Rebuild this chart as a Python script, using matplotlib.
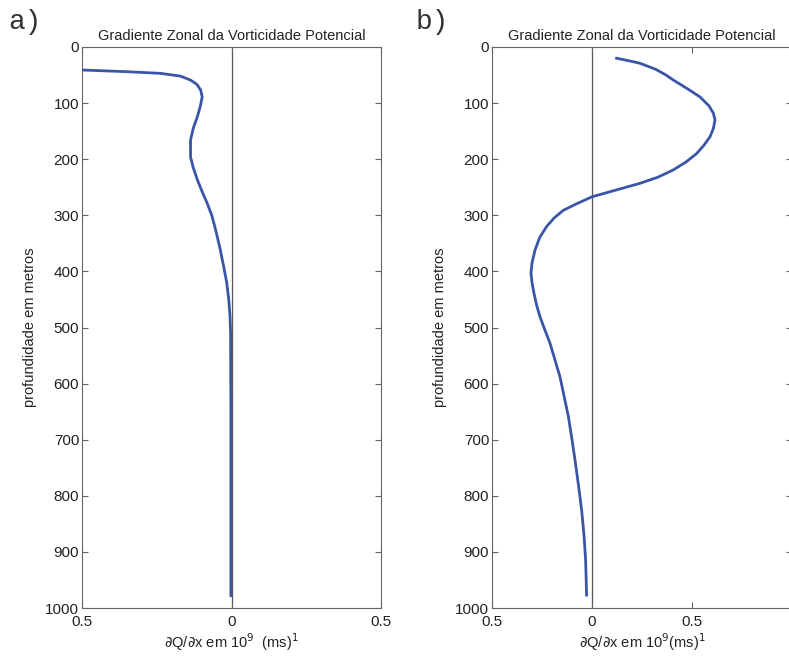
import numpy as np
import matplotlib.pyplot as plt
import matplotlib as mpl

mpl.rcParams.update({
    "font.family": ["Liberation Sans", "DejaVu Sans"],
    "font.size": 10,
    "xtick.direction": "in",
    "ytick.direction": "in",
    "axes.edgecolor": "#666666",
    "xtick.color": "#666666",
    "ytick.color": "#666666",
    "xtick.labelcolor": "#222222",
    "ytick.labelcolor": "#222222",
})

# panel a: zonal PV gradient vs depth (m)
grad_a = [-0.60, -0.50, -0.35, -0.237, -0.17, -0.137, -0.115, -0.103, -0.098,
          -0.104, -0.114, -0.128, -0.137, -0.137, -0.128, -0.114, -0.098,
          -0.081, -0.066, -0.053, -0.038, -0.026, -0.016, -0.009, -0.005,
          -0.003, -0.002, -0.002]
depth_a = [40, 41, 44, 47, 52, 59, 67, 77, 89,
           105, 124, 145, 166, 196, 215, 237, 258,
           279, 300, 326, 360, 392, 420, 451, 480,
           510, 650, 978]

# panel b
grad_b = [0.123, 0.19, 0.24, 0.32, 0.37, 0.407, 0.48, 0.54, 0.585, 0.607, 0.615,
          0.607, 0.59, 0.56, 0.523, 0.47, 0.407, 0.33, 0.24, 0.12, 0.0,
          -0.08, -0.143, -0.19, -0.227, -0.262, -0.285, -0.30, -0.305, -0.30,
          -0.29, -0.277, -0.26, -0.235, -0.21, -0.185, -0.16, -0.138, -0.118,
          -0.10, -0.085, -0.068, -0.052, -0.04, -0.032, -0.027]
depth_b = [20, 25, 29, 40, 50, 59, 75, 89, 105, 118, 130,
           145, 160, 175, 190, 205, 219, 232, 243, 255, 267,
           280, 291, 305, 320, 340, 362, 385, 403, 420,
           439, 460, 481, 505, 528, 558, 588, 625, 659,
           700, 736, 780, 825, 870, 914, 977]

TITLE = "Gradiente Zonal da Vorticidade Potencial"
YLABEL = "profundidade em metros"
LINE_C = "#3a55a8"

W, H = 789, 658
fig = plt.figure(figsize=(W / 100, H / 100), dpi=100)


def px_axes(x0, x1, y0, y1):
    return fig.add_axes([x0 / W, 1 - y1 / H, (x1 - x0) / W, (y1 - y0) / H])


def style(ax, xlim, xticks, xticklabels, xlabel):
    ax.set_xlim(*xlim)
    ax.set_ylim(1000, 0)
    ax.set_yticks(np.arange(0, 1001, 100))
    ax.set_xticks(xticks)
    ax.set_xticklabels(xticklabels)
    ax.tick_params(top=True, right=True, length=4, width=0.8, labelsize=11,
                   pad=2)
    ax.tick_params(axis="x", pad=5)
    ax.axvline(0, color="#555555", lw=0.9, zorder=1)
    ax.set_title(TITLE, fontsize=10.5, color="#222222", pad=5)
    ax.set_ylabel(YLABEL, fontsize=10.5, color="#222222", labelpad=6)
    ax.set_xlabel(xlabel, fontsize=10.5, color="#222222", labelpad=2)


ax_a = px_axes(82, 381, 47, 608)
ax_a.plot(grad_a, depth_a, color=LINE_C, lw=2.0, zorder=3,
          solid_joinstyle="round")
style(ax_a, (-0.5, 0.5), [-0.5, 0, 0.5], ["0.5", "0", "0.5"],
      r"$\partial$Q/$\partial$x em 10$^9$  (ms)$^1$")

ax_b = px_axes(492, 792, 47, 608)
ax_b.plot(grad_b, depth_b, color=LINE_C, lw=2.0, zorder=3,
          solid_joinstyle="round")
style(ax_b, (-0.5, 1.0), [-0.5, 0, 0.5], ["0.5", "0", "0.5"],
      r"$\partial$Q/$\partial$x em 10$^9$(ms)$^1$")

fig.text(8 / W, 1 - 22 / H, "a)", family=["Liberation Mono", "DejaVu Sans Mono"],
         fontsize=20, va="center", ha="left", color="#333333")
fig.text(416 / W, 1 - 22 / H, "b)", family=["Liberation Mono", "DejaVu Sans Mono"],
         fontsize=20, va="center", ha="left", color="#333333")

fig.savefig("out.png", dpi=100)
